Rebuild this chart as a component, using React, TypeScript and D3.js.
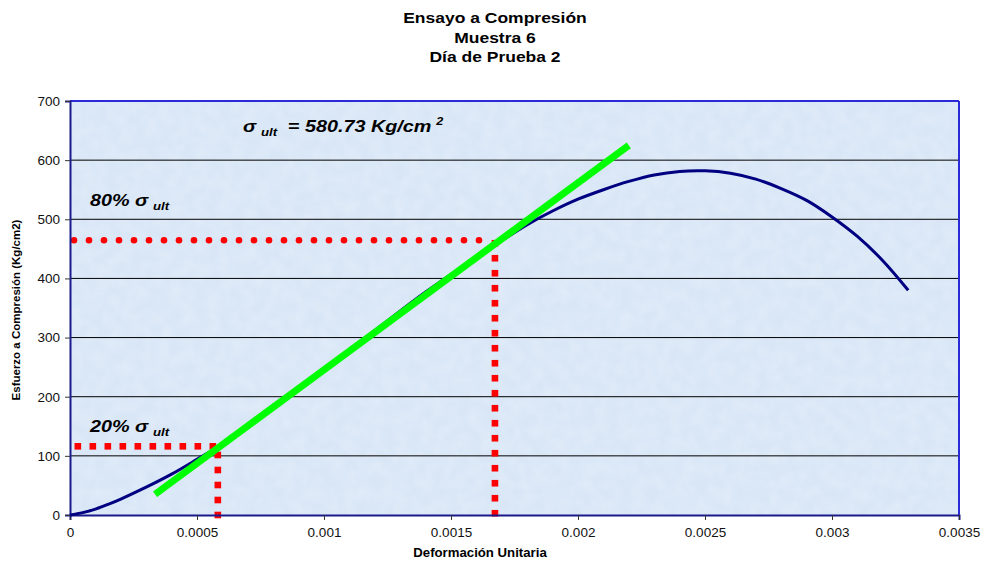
import React, { useEffect, useRef } from 'react';
import * as d3 from 'd3';

// curve: strain (-) vs stress (Kg/cm2)
const strains = [0, 0.00005, 0.0001, 0.00015, 0.0002, 0.0003, 0.0004, 0.0005, 0.0006, 0.0008, 0.001, 0.0012, 0.0014, 0.0016, 0.0017, 0.0018, 0.0019, 0.002, 0.0021, 0.0022, 0.0023, 0.0024, 0.0025, 0.0026, 0.0027, 0.0028, 0.0029, 0.003, 0.0031, 0.0032, 0.0033];
const stresses = [0, 4, 10, 18, 27, 47, 69, 94, 120, 184, 248, 312, 377, 436, 464, 491, 514, 534, 550, 564, 575, 581, 582, 578, 568, 552, 532, 504, 471, 430, 380];

// tangent (modulus) line
const fitStrain = [0.000335, 0.0022];
const fitStress = [35, 625];

const sigmaUlt = 580.73;
const strain20 = 0.000582;
const strain80 = 0.001673;

const xTicks = [0, 0.0005, 0.001, 0.0015, 0.002, 0.0025, 0.003, 0.0035];
const yTicks = [0, 100, 200, 300, 400, 500, 600, 700];
const titleLines = ['Ensayo a Compresión', 'Muestra 6', 'Día de Prueba 2'];

const FONT = 'Arial, "Liberation Sans", sans-serif';
const STRETCH = 1.25; // the original chart text is drawn wider than normal

const App: React.FC = () => {
  const ref = useRef<SVGSVGElement | null>(null);

  useEffect(() => {
    if (!ref.current) return;
    const W = 983, H = 563;
    const margin = { top: 101, right: 24, bottom: 48, left: 70 };
    const width = W - margin.left - margin.right;
    const height = H - margin.top - margin.bottom;

    const root = d3.select(ref.current);
    root.selectAll('*').remove();
    root.attr('width', W).attr('height', H).style('font-family', FONT);

    root.append('rect').attr('width', W).attr('height', H).attr('fill', '#ffffff');

    // title
    root.append('g').selectAll('text')
      .data(titleLines)
      .enter().append('text')
      .attr('transform', (d, i) => `translate(495,${23 + i * 19.5}) scale(${STRETCH},1)`)
      .attr('text-anchor', 'middle')
      .style('font-size', '14px')
      .style('font-weight', 'bold')
      .text(d => d);

    const x = d3.scaleLinear().domain([0, 0.0035]).range([0, width]);
    const y = d3.scaleLinear().domain([0, 700]).range([height, 0]);

    const defs = root.append('defs');
    const filt = defs.append('filter').attr('id', 'tex').attr('x', 0).attr('y', 0).attr('width', 1).attr('height', 1);
    filt.append('feTurbulence').attr('type', 'fractalNoise').attr('baseFrequency', 0.08).attr('numOctaves', 2).attr('seed', 3).attr('result', 'n');
    filt.append('feColorMatrix').attr('in', 'n').attr('type', 'matrix')
      .attr('values', '0 0 0 0 1  0 0 0 0 1  0 0 0 0 1  0 0 0 0.35 -0.1')
      .attr('result', 'm');
    filt.append('feComposite').attr('in', 'm').attr('in2', 'SourceGraphic').attr('operator', 'in');

    const svg = root.append('g').attr('transform', `translate(${margin.left},${margin.top})`);

    // plot background
    svg.append('rect').attr('width', width).attr('height', height).attr('fill', '#d8e6f6');
    svg.append('rect').attr('width', width).attr('height', height).attr('fill', '#d8e6f6').attr('filter', 'url(#tex)');

    // grid
    svg.append('g').selectAll('line')
      .data(yTicks.filter(t => t > 0 && t < 700))
      .enter().append('line')
      .attr('x1', 0).attr('x2', width)
      .attr('y1', d => y(d)).attr('y2', d => y(d))
      .attr('stroke', '#000').attr('stroke-width', 1);

    // border top/right
    svg.append('line').attr('x1', 0).attr('x2', width).attr('y1', 0).attr('y2', 0)
      .attr('stroke', '#2a2ad6').attr('stroke-width', 2);
    svg.append('line').attr('x1', width).attr('x2', width).attr('y1', 0).attr('y2', height)
      .attr('stroke', '#2a2ad6').attr('stroke-width', 2);

    // red reference markers (drawn under the axes)
    const s20 = 0.2 * sigmaUlt;
    const s80 = 0.8 * sigmaUlt;
    const step = 15;
    const red = '#ff0000';
    const sq = 6.6;

    const h20 = d3.range(x(strain20) - 5, x(0) + 4, -step);
    svg.append('g').selectAll('rect')
      .data(h20).enter().append('rect')
      .attr('x', d => d - sq / 2).attr('y', y(s20) - sq / 2)
      .attr('width', sq).attr('height', sq).attr('fill', red);
    const v20 = d3.range(y(0), y(s20) + 4, -step);
    svg.append('g').selectAll('rect')
      .data(v20).enter().append('rect')
      .attr('x', x(strain20) - sq / 2).attr('y', d => d - sq / 2)
      .attr('width', sq).attr('height', sq).attr('fill', red);

    const h80 = d3.range(x(0) + 4, x(strain80) - 8, step);
    svg.append('g').selectAll('circle')
      .data(h80).enter().append('circle')
      .attr('cx', d => d).attr('cy', y(s80)).attr('r', 3.3).attr('fill', red);
    const v80 = d3.range(y(s80) + 3, y(0) + 4, step);
    svg.append('g').selectAll('rect')
      .data(v80).enter().append('rect')
      .attr('x', x(strain80) - sq / 2).attr('y', d => d - sq / 2)
      .attr('width', sq).attr('height', sq).attr('fill', red);

    // axes
    const xAxis = svg.append('g').attr('transform', `translate(0,${height})`)
      .call(d3.axisBottom(x).tickValues(xTicks).tickSize(5).tickPadding(7).tickFormat(d => d3.format('')(+d)));
    const yAxis = svg.append('g')
      .call(d3.axisLeft(y).tickValues(yTicks).tickSize(5).tickPadding(5));
    [xAxis, yAxis].forEach(a => {
      a.select('.domain').attr('stroke', '#1a1a8c').attr('stroke-width', 2);
      a.selectAll('.tick line').attr('stroke', '#333');
      a.selectAll('.tick text').style('font-size', '13.5px').style('font-family', FONT).attr('fill', '#111');
    });

    // axis titles
    root.append('text')
      .attr('transform', `translate(480,557) scale(1.1,1)`)
      .attr('text-anchor', 'middle')
      .style('font-size', '12px').style('font-weight', 'bold')
      .text('Deformación Unitaria');
    root.append('text')
      .attr('transform', `translate(20,${margin.top + height / 2 + 2}) rotate(-90)`)
      .attr('text-anchor', 'middle')
      .style('font-size', '11.5px').style('font-weight', 'bold')
      .text('Esfuerzo a Compresión (Kg/cm2)');

    // stress-strain curve
    const pts = strains.map((s, i) => [s, stresses[i]] as [number, number]);
    svg.append('path')
      .datum(pts)
      .attr('fill', 'none')
      .attr('stroke', '#000080')
      .attr('stroke-width', 3)
      .attr('stroke-linejoin', 'round')
      .attr('d', d3.line<[number, number]>().x(d => x(d[0])).y(d => y(d[1])).curve(d3.curveCatmullRom));

    // modulus line
    svg.append('line')
      .attr('x1', x(fitStrain[0])).attr('y1', y(fitStress[0]))
      .attr('x2', x(fitStrain[1])).attr('y2', y(fitStress[1]))
      .attr('stroke', '#00ff00').attr('stroke-width', 7);

    // annotations
    const label = (px: number, py: number, pre: string, post?: string, sup?: string) => {
      const t = root.append('text')
        .attr('transform', `translate(${px},${py}) scale(1.2,1)`)
        .style('font-size', '16.5px').style('font-weight', 'bold').style('font-style', 'italic');
      t.append('tspan').text(pre + 'σ');
      t.append('tspan').attr('dx', 4).attr('dy', 4).style('font-size', '11px').text('ult');
      if (post) t.append('tspan').attr('dx', 9).attr('dy', -4).text(post);
      if (sup) t.append('tspan').attr('dx', 4).attr('dy', -7).style('font-size', '10.5px').text(sup);
    };
    label(243, 132, '', '= 580.73 Kg/cm', '2');
    label(90, 206, '80% ');
    label(90, 432, '20% ');
  }, []);

  return <svg ref={ref} style={{ position: 'absolute', left: 0, top: 0, display: 'block' }}></svg>;
};

export default App;
